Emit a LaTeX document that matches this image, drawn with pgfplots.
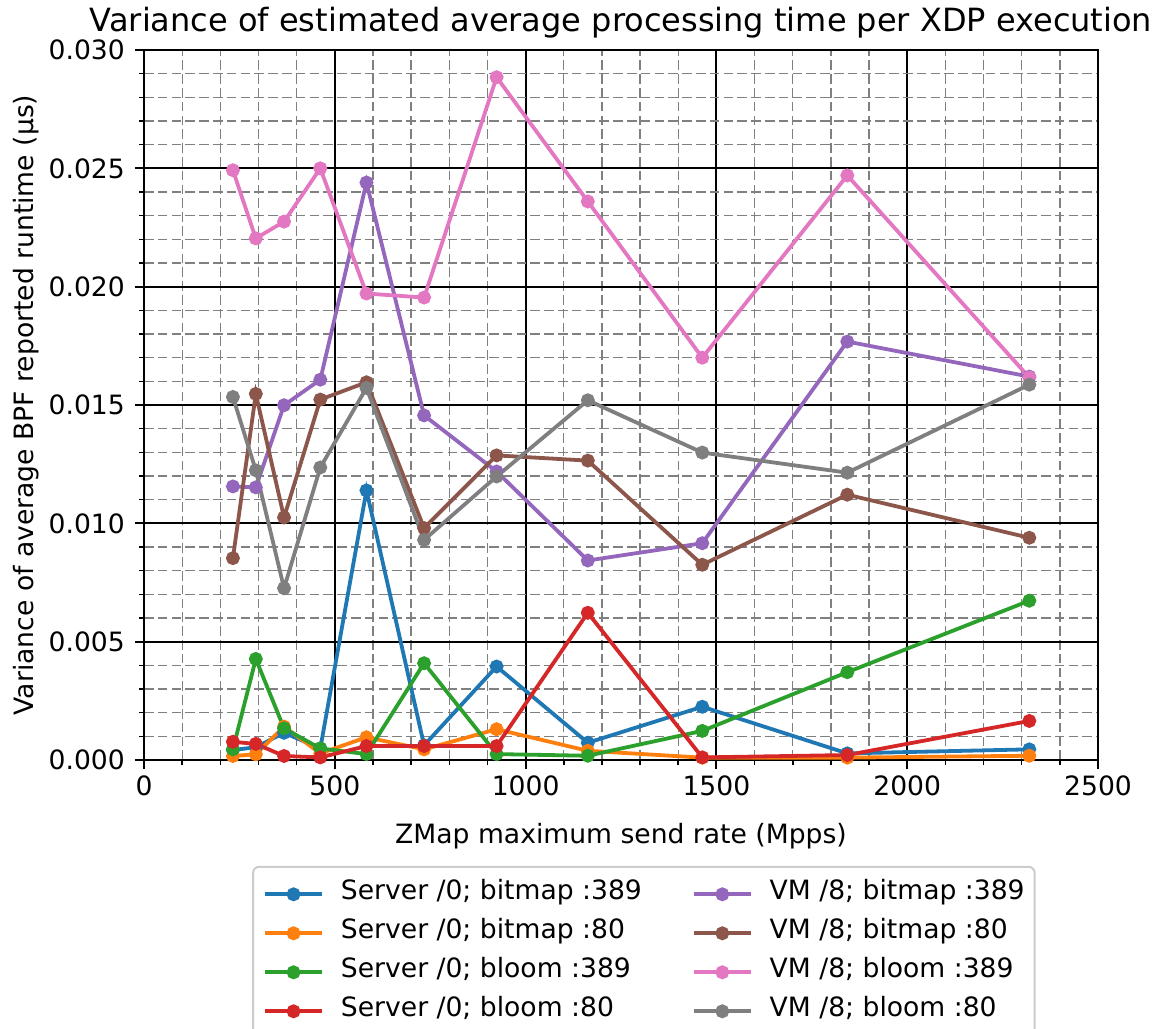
\documentclass[border=0pt]{standalone}
\usepackage{pgfplots}
\pgfplotsset{compat=1.18}
\usepackage{pgfplotstable}
\usepackage{fontspec}
\setmainfont{DejaVu Sans}
\definecolor{c1}{HTML}{1F77B4}
\definecolor{c2}{HTML}{FF7F0E}
\definecolor{c3}{HTML}{2CA02C}
\definecolor{c4}{HTML}{D62728}
\definecolor{c5}{HTML}{9467BD}
\definecolor{c6}{HTML}{8C564B}
\definecolor{c7}{HTML}{E377C2}
\definecolor{c8}{HTML}{7F7F7F}
\pgfplotstableread{
x    sb389   sb80    sl389   sl80    vb389   vb80    vl389   vl80
233  0.00042 0.00017 0.00045 0.00077 0.01156 0.00853 0.02492 0.01534
293  0.00054 0.00024 0.00427 0.00068 0.01152 0.01547 0.02204 0.01224
367  0.00115 0.00141 0.00134 0.00017 0.01499 0.01025 0.02275 0.00726
462  0.00049 0.00028 0.00049 0.00011 0.01607 0.01523 0.02500 0.01236
583  0.01139 0.00096 0.00025 0.00059 0.02440 0.01596 0.01971 0.01572
734  0.00062 0.00045 0.00409 0.00059 0.01456 0.00980 0.01954 0.00930
924  0.00395 0.00130 0.00025 0.00059 0.01219 0.01287 0.02885 0.01198
1163 0.00073 0.00039 0.00018 0.00622 0.00843 0.01265 0.02360 0.01520
1463 0.00225 0.00010 0.00123 0.00011 0.00916 0.00825 0.01700 0.01299
1843 0.00028 0.00010 0.00371 0.00021 0.01768 0.01121 0.02470 0.01214
2320 0.00045 0.00018 0.00673 0.00165 0.01620 0.00939 0.01616 0.01586
}\data
\begin{document}
\begin{tikzpicture}
\begin{axis}[
  at={(0,0)}, anchor=south west,
  scale only axis, width=477pt, height=355pt,
  xmin=0, xmax=2500, ymin=0, ymax=0.030,
  xtick={0,500,1000,1500,2000,2500},
  ytick={0,0.005,0.010,0.015,0.020,0.025,0.030},
  minor x tick num=4, minor y tick num=4,
  scaled y ticks=false,
  grid=both,
  major grid style={black, line width=1.04pt},
  minor grid style={black!50, line width=0.65pt, dash pattern=on 4.8pt off 2.1pt},
  axis line style={line width=1.04pt},
  tick align=outside, xtick pos=left, ytick pos=left,
  major tick length=4.55pt, minor tick length=2.6pt,
  every major tick/.style={black, line width=1.04pt},
  every minor tick/.style={black, line width=0.78pt},
  /pgf/number format/assume math mode=true,
  tick label style={font=\fontsize{13.3}{16}\selectfont},
  xticklabel style={/pgf/number format/1000 sep={}},
  yticklabel style={xshift=-1.5pt, /pgf/number format/fixed, /pgf/number format/fixed zerofill, /pgf/number format/precision=3},
  title={Variance of estimated average processing time per XDP execution},
  title style={font=\fontsize{16}{19}\selectfont, at={(axis description cs:0.5,1)}, anchor=base, yshift=3.5pt},
  xlabel={ZMap maximum send rate (Mpps)},
  xlabel style={font=\fontsize{13.3}{16}\selectfont, at={(axis description cs:0.5,0)}, anchor=base, yshift=-41.5pt},
  ylabel={Variance of average BPF reported runtime (µs)},
  ylabel style={font=\fontsize{13.3}{16}\selectfont, at={(axis description cs:0,0.5)}, anchor=base, yshift=55.4pt},
  every axis plot/.append style={line width=1.9pt, mark=*, mark size=2.5pt, mark options={solid}},
  legend image code/.code={\draw[mark repeat=2,mark phase=2] plot coordinates {(0pt,0pt) (14.25pt,0pt) (28.5pt,0pt)};},
  legend cell align=left,
  legend columns=2,
  legend style={
    at={(axis description cs:0.524,-0.149)}, anchor=north,
    draw=black!20, line width=1pt, rounded corners=3pt, fill=white,
    font=\fontsize{13.3}{16}\selectfont,
    inner xsep=5pt, inner ysep=4pt, row sep=0pt,
    nodes={inner xsep=0pt, inner ysep=0pt, text height=12.5pt, text depth=7pt},
    /tikz/every odd column/.append style={column sep=8.5pt},
    /tikz/every even column/.append style={column sep=25pt},
  },
]
\addplot[c1, forget plot] table[x=x, y=sb389] {\data};
\addplot[c2, forget plot] table[x=x, y=sb80] {\data};
\addplot[c3, forget plot] table[x=x, y=sl389] {\data};
\addplot[c4, forget plot] table[x=x, y=sl80] {\data};
\addplot[c5, forget plot] table[x=x, y=vb389] {\data};
\addplot[c6, forget plot] table[x=x, y=vb80] {\data};
\addplot[c7, forget plot] table[x=x, y=vl389] {\data};
\addplot[c8, forget plot] table[x=x, y=vl80] {\data};
\addlegendimage{c1, line width=1.9pt, mark=*, mark size=2.5pt}
\addlegendentry{Server /0; bitmap :389}
\addlegendimage{c5, line width=1.9pt, mark=*, mark size=2.5pt}
\addlegendentry{VM /8; bitmap :389}
\addlegendimage{c2, line width=1.9pt, mark=*, mark size=2.5pt}
\addlegendentry{Server /0; bitmap :80}
\addlegendimage{c6, line width=1.9pt, mark=*, mark size=2.5pt}
\addlegendentry{VM /8; bitmap :80}
\addlegendimage{c3, line width=1.9pt, mark=*, mark size=2.5pt}
\addlegendentry{Server /0; bloom :389}
\addlegendimage{c7, line width=1.9pt, mark=*, mark size=2.5pt}
\addlegendentry{VM /8; bloom :389}
\addlegendimage{c4, line width=1.9pt, mark=*, mark size=2.5pt}
\addlegendentry{Server /0; bloom :80}
\addlegendimage{c8, line width=1.9pt, mark=*, mark size=2.5pt}
\addlegendentry{VM /8; bloom :80}
\end{axis}
\pgfresetboundingbox
\path[use as bounding box] (-72pt,-134pt) rectangle (507.5pt,380pt);
\end{tikzpicture}
\end{document}
